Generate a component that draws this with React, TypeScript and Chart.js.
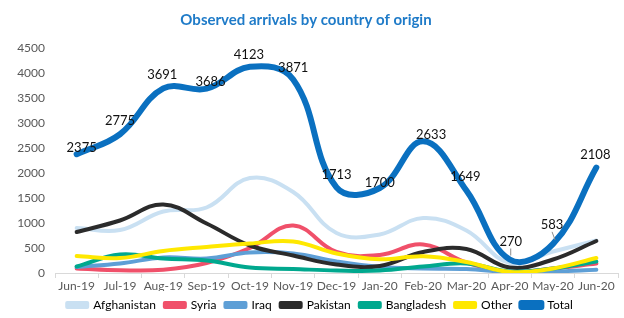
import React, { useEffect, useRef } from "react";
import { Chart, registerables } from "chart.js";

Chart.register(...registerables);

const months = ["Jun-19", "Jul-19", "Aug-19", "Sep-19", "Oct-19", "Nov-19", "Dec-19", "Jan-20", "Feb-20", "Mar-20", "Apr-20", "May-20", "Jun-20"];
const afghanistan = [900, 860, 1230, 1310, 1900, 1620, 800, 770, 1100, 850, 200, 430, 650];
const syria = [90, 55, 65, 200, 500, 950, 420, 360, 570, 210, 20, 90, 190];
const iraq = [120, 190, 310, 290, 410, 390, 230, 120, 90, 80, 20, 30, 65];
const pakistan = [820, 1050, 1370, 990, 550, 350, 170, 140, 420, 480, 110, 270, 640];
const bangladesh = [130, 370, 290, 250, 110, 80, 50, 50, 130, 190, 30, 90, 230];
const other = [340, 300, 440, 520, 590, 630, 390, 275, 335, 220, 20, 90, 300];
const total = [2375, 2775, 3691, 3686, 4123, 3871, 1713, 1700, 2633, 1649, 270, 583, 2108];
const yTicks = [0, 500, 1000, 1500, 2000, 2500, 3000, 3500, 4000, 4500];

const TITLE = "Observed arrivals by country of origin";

// label placement styling for the Total data labels
const labelOffsets = [6, 13, 14, 7, 12.5, 12, 13, 5, 7, 14, 18, 19, 13];
const labelDx = [5, 0, -1, 4, -1, 0, 0, 0, 8, -1, 1, -1, -1];
const leaderIdx = [10, 11];

const titlePlugin = {
  id: "customTitle",
  afterDraw(chart: any) {
    const ctx = chart.ctx;
    ctx.save();
    ctx.font = "bold 15px Lato";
    ctx.fillStyle = "#1f7bc8";
    ctx.textAlign = "center";
    ctx.textBaseline = "middle";
    ctx.fillText(TITLE, chart.width / 2 - 6, 20);
    ctx.restore();
  },
};

const legendTweak = {
  id: "legendTweak",
  beforeLayout(chart: any) {
    const lg = chart.legend;
    if (lg && !lg._tweaked) {
      const f = lg.fit.bind(lg);
      lg.fit = () => {
        f();
        lg.height = 27;
      };
      lg._tweaked = true;
    }
  },
  afterLayout(chart: any) {
    const lg = chart.legend;
    if (lg) {
      lg.left += 11;
      lg.right += 11;
      lg.top -= 1;
      lg.bottom -= 1;
    }
  },
};

const totalLabels = {
  id: "totalLabels",
  afterDatasetsDraw(chart: any) {
    const idx = chart.data.datasets.findIndex((d: any) => d.label === "Total");
    const meta = chart.getDatasetMeta(idx);
    const ctx = chart.ctx;
    ctx.save();
    ctx.font = "13px Lato";
    ctx.fillStyle = "#111";
    ctx.textAlign = "center";
    ctx.textBaseline = "middle";
    meta.data.forEach((pt: any, i: number) => {
      const x = pt.x + labelDx[i];
      const y = pt.y - labelOffsets[i];
      ctx.fillText(String(total[i]), x, y);
      if (leaderIdx.includes(i)) {
        ctx.strokeStyle = "#8c8c8c";
        ctx.lineWidth = 1;
        ctx.beginPath();
        ctx.moveTo(x, y + 7);
        ctx.lineTo(x + (i === 11 ? 3 : 0), pt.y - 4);
        ctx.stroke();
      }
    });
    ctx.restore();
  },
};

export default function App() {
  const ref = useRef<HTMLCanvasElement | null>(null);
  useEffect(() => {
    document.body.style.margin = "0";
    const mk = (label: string, data: number[], color: string, width: number, order: number) => ({
      label,
      data,
      borderColor: color,
      backgroundColor: color,
      borderWidth: width,
      pointRadius: 0,
      pointHoverRadius: 0,
      tension: 0.4,
      fill: false,
      order,
      borderCapStyle: "round",
      borderJoinStyle: "round",
    });
    const chart = new Chart(ref.current!, {
      type: "line",
      data: {
        labels: months,
        datasets: [
          mk("Afghanistan", afghanistan, "#c9e0f2", 4, 7),
          mk("Syria", syria, "#f0506a", 4, 6),
          mk("Iraq", iraq, "#5e9fd6", 4, 5),
          mk("Pakistan", pakistan, "#2b2b2b", 4, 4),
          mk("Bangladesh", bangladesh, "#00a88e", 4, 3),
          mk("Other", other, "#ffe800", 4, 2),
          mk("Total", total, "#0a70c0", 6, 1),
        ] as any,
      },
      options: {
        responsive: false,
        animation: false,
        devicePixelRatio: 1,
        layout: { padding: { top: 48, right: 6, left: 0, bottom: 0 } },
        plugins: {
          title: { display: false },
          tooltip: { enabled: false },
          legend: {
            position: "bottom",
            labels: {
              boxWidth: 20,
              boxHeight: 4,
              padding: 9,
              color: "#000",
              font: { family: "Lato", size: 12 },
              sort: (a: any, b: any) => a.datasetIndex - b.datasetIndex,
            },
          },
        },
        scales: {
          x: {
            offset: true,
            grid: { offset: true, drawOnChartArea: false, tickLength: 5, color: "#d9d9d9" },
            border: { color: "#d9d9d9" },
            ticks: { color: "#595959", font: { family: "Lato", size: 12 }, padding: 1, maxRotation: 0, autoSkip: false },
            afterFit: (s: any) => { s.height = 18; },
          },
          y: {
            min: 0,
            max: 4500,
            afterBuildTicks: (s: any) => { s.ticks = yTicks.map((v) => ({ value: v })); },
            afterFit: (s: any) => { s.width = 55; },
            grid: { display: false, drawTicks: false },
            border: { display: false },
            ticks: { color: "#595959", font: { family: "Lato", size: 12 }, padding: 10, callback: (v: any) => String(v) },
          },
        },
      },
      plugins: [titlePlugin, totalLabels, legendTweak],
    });
    return () => chart.destroy();
  }, []);
  return (
    <div style={{ width: 624, height: 318 }}>
      <canvas ref={ref} width={624} height={318} />
    </div>
  );
}
